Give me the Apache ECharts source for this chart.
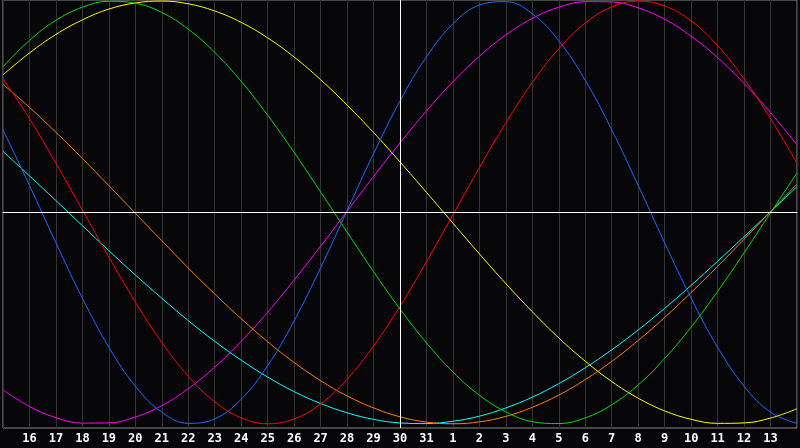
<!DOCTYPE html>
<html>
<head>
<meta charset="utf-8">
<script src="https://cdn.jsdelivr.net/npm/echarts@6/dist/echarts.min.js"></script>
<style>
html,body{margin:0;padding:0;background:#060609;}
#c{width:800px;height:448px;}
</style>
</head>
<body>
<div id="c"></div>
<script>
var days = ['15','16','17','18','19','20','21','22','23','24','25','26','27','28','29','30','31','1','2','3','4','5','6','7','8','9','10','11','12','13','14'];
var todayIndex = 15;

var blueVals = [0.391,0.128,-0.144,-0.406,-0.638,-0.822,-0.945,-0.998,-0.977,-0.884,-0.725,-0.513,-0.262,0.008,0.278,0.527,0.736,0.892,0.981,0.997,0.940,0.812,0.625,0.391,0.128,-0.144,-0.406,-0.638,-0.822,-0.945,-0.998];
var redVals = [0.632,0.444,0.233,0.011,-0.212,-0.424,-0.615,-0.775,-0.896,-0.972,-1.000,-0.977,-0.906,-0.789,-0.632,-0.444,-0.233,-0.011,0.212,0.424,0.615,0.775,0.896,0.972,1.000,0.977,0.906,0.789,0.632,0.444,0.233];
var greenVals = [0.689,0.814,0.909,0.971,0.999,0.990,0.946,0.867,0.757,0.620,0.460,0.284,0.097,-0.093,-0.280,-0.457,-0.617,-0.755,-0.865,-0.944,-0.990,-0.999,-0.972,-0.910,-0.816,-0.691,-0.542,-0.374,-0.191,-0.002,0.187];
var magentaVals = [-0.840,-0.918,-0.971,-0.997,-0.996,-0.968,-0.914,-0.834,-0.732,-0.610,-0.472,-0.320,-0.160,0.005,0.170,0.329,0.480,0.618,0.739,0.840,0.918,0.971,0.997,0.996,0.968,0.914,0.834,0.732,0.610,0.472,0.320];
var yellowVals = [0.651,0.754,0.842,0.911,0.962,0.991,1.000,0.987,0.953,0.899,0.826,0.735,0.628,0.508,0.378,0.239,0.095,-0.051,-0.196,-0.337,-0.470,-0.594,-0.704,-0.800,-0.879,-0.939,-0.979,-0.998,-0.996,-0.973,-0.929];
var orangeVals = [0.606,0.497,0.379,0.255,0.127,-0.004,-0.134,-0.263,-0.386,-0.503,-0.612,-0.710,-0.796,-0.868,-0.925,-0.967,-0.992,-1.000,-0.991,-0.965,-0.922,-0.864,-0.791,-0.705,-0.606,-0.497,-0.379,-0.255,-0.127,0.004,0.134];
var cyanVals = [0.289,0.173,0.056,-0.063,-0.181,-0.296,-0.406,-0.512,-0.610,-0.699,-0.779,-0.848,-0.904,-0.948,-0.979,-0.996,-0.999,-0.988,-0.964,-0.925,-0.874,-0.810,-0.735,-0.650,-0.556,-0.454,-0.345,-0.231,-0.115,0.003,0.122];

var seriesDefs = [
  {name:'magenta', data:magentaVals, color:'#ff00ff'},
  {name:'cyan', data:cyanVals, color:'#00ffff'},
  {name:'orange', data:orangeVals, color:'#ff8000'},
  {name:'yellow', data:yellowVals, color:'#ffff00'},
  {name:'green', data:greenVals, color:'#00dd00'},
  {name:'blue', data:blueVals, color:'#1a6dff'},
  {name:'red', data:redVals, color:'#ff0000'}
];

var series = seriesDefs.map(function(s){
  return {
    name:s.name, type:'line', data:s.data, smooth:0.4, symbol:'none',
    lineStyle:{color:s.color, width:1}, itemStyle:{color:s.color},
    silent:true, z:3
  };
});
series.push({
  type:'line', data:[], silent:true, z:4,
  markLine:{
    silent:true, symbol:['none','none'], animation:false,
    label:{show:false},
    lineStyle:{color:'#ffffff', width:1, type:'solid'},
    data:[{xAxis:todayIndex},{yAxis:0}]
  }
});

var chart = echarts.init(document.getElementById('c'));
chart.setOption({
  animation:false,
  backgroundColor:'#060609',
  grid:{left:0, right:0, top:0, bottom:20, show:true, borderColor:'#8a8a8a', borderWidth:1, backgroundColor:'transparent'},
  xAxis:{
    type:'category', data:days, boundaryGap:false,
    axisTick:{show:false},
    axisLine:{lineStyle:{color:'#9a9a9a', width:1}},
    splitLine:{show:true, interval:0, lineStyle:{color:'#333333', width:1}},
    axisLabel:{
      interval:0, color:'#ffffff', fontFamily:'DejaVu Sans Mono', fontWeight:'bold', fontSize:12, margin:5,
      formatter:function(v,i){ return (i===0 || i===days.length-1) ? '' : v; }
    }
  },
  yAxis:{
    type:'value', min:-1.02, max:1.005,
    axisLine:{show:false}, axisTick:{show:false}, axisLabel:{show:false}, splitLine:{show:false}
  },
  series:series
});
</script>
</body>
</html>
